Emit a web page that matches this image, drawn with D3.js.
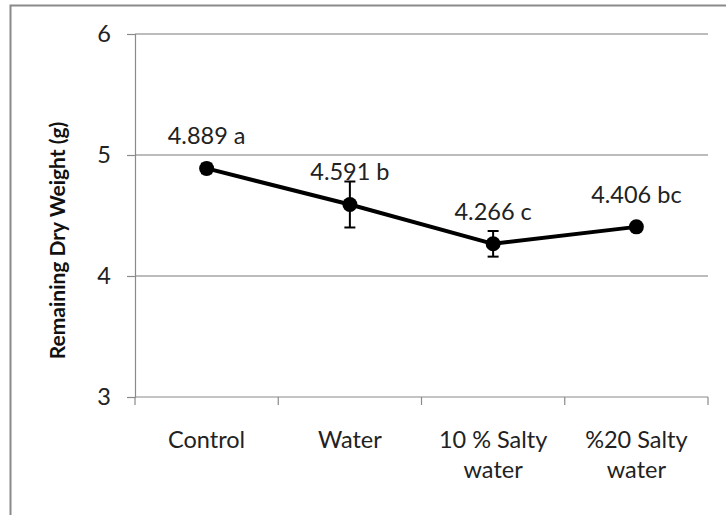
<!DOCTYPE html>
<html lang="en">
<head>
<meta charset="UTF-8">
<title>Remaining Dry Weight</title>
<script src="https://d3js.org/d3.v7.min.js"></script>
<style>
  html, body { margin: 0; padding: 0; background: #fff; }
  svg { display: block; font-family: Lato, "Open Sans", sans-serif; }
</style>
</head>
<body>
<svg id="chart" width="726" height="515"></svg>
<script>
// data
const categories = [["Control"], ["Water"], ["10 % Salty", "water"], ["%20 Salty", "water"]];
const means = [4.889, 4.591, 4.266, 4.406];
const errors = [0.04, 0.19, 0.106, 0.02];
const pointLabels = ["4.889 a", "4.591 b", "4.266 c", "4.406 bc"];
const yTicks = [3, 4, 5, 6];

const width = 726, height = 515;
const margin = { left: 135, right: 18, top: 34, bottom: 118 };
const fs = 23.5;

const svg = d3.select("#chart");

// outer frame (right and bottom edges fall outside the picture)
svg.append("rect")
  .attr("x", 10.5).attr("y", 5.5)
  .attr("width", 760).attr("height", 560)
  .attr("fill", "none")
  .attr("stroke", "#8a8a8a")
  .attr("stroke-width", 2);

const keys = categories.map((d, i) => i);

const x = d3.scaleBand()
  .domain(keys)
  .range([margin.left, width - margin.right])
  .padding(0);

const y = d3.scaleLinear()
  .domain([3, 6])
  .range([height - margin.bottom, margin.top]);

const x0 = margin.left, x1 = width - margin.right;

// gridlines
svg.append("g")
  .selectAll("line")
  .data(yTicks.filter(t => t > 3))
  .join("line")
  .attr("x1", x0).attr("x2", x1)
  .attr("y1", d => y(d)).attr("y2", d => y(d))
  .attr("stroke", "#a6a6a6")
  .attr("stroke-width", 1.5);

// y axis
const yAxis = svg.append("g")
  .attr("transform", `translate(${x0},0)`)
  .call(d3.axisLeft(y).tickValues(yTicks).tickSize(8).tickPadding(16).tickFormat(d3.format("d")));
yAxis.select(".domain").attr("stroke", "#8a8a8a").attr("stroke-width", 1.2);
yAxis.selectAll(".tick line").attr("stroke", "#8a8a8a").attr("stroke-width", 1.2);
yAxis.selectAll(".tick text")
  .attr("font-size", fs)
  .attr("fill", "#222")
  .attr("font-family", "Lato, sans-serif");

// x axis baseline and boundary ticks
const xBase = y(3);
svg.append("line")
  .attr("x1", x0).attr("x2", x1)
  .attr("y1", xBase).attr("y2", xBase)
  .attr("stroke", "#8a8a8a").attr("stroke-width", 1.2);
const bounds = keys.map(k => x(k)).concat([x(keys[keys.length - 1]) + x.bandwidth()]);
svg.append("g")
  .selectAll("line")
  .data(bounds)
  .join("line")
  .attr("x1", d => d).attr("x2", d => d)
  .attr("y1", xBase).attr("y2", xBase + 8)
  .attr("stroke", "#8a8a8a").attr("stroke-width", 1.2);

// category labels
const cx = i => x(i) + x.bandwidth() / 2;
svg.append("g")
  .selectAll("text")
  .data(categories)
  .join("text")
  .attr("text-anchor", "middle")
  .attr("font-size", fs)
  .attr("fill", "#222")
  .each(function (lines, i) {
    d3.select(this).selectAll("tspan")
      .data(lines)
      .join("tspan")
      .attr("x", cx(i))
      .attr("y", (d, j) => 448 + j * 30)
      .text(d => d);
  });

// y axis title
svg.append("text")
  .attr("transform", `translate(65,${(margin.top + xBase) / 2 + 25}) rotate(-90)`)
  .attr("text-anchor", "middle")
  .attr("font-size", 21)
  .attr("font-weight", "bold")
  .attr("fill", "#111")
  .text("Remaining Dry Weight (g)");

// line
const line = d3.line()
  .x((d, i) => cx(i))
  .y(d => y(d));
svg.append("path")
  .datum(means)
  .attr("d", line)
  .attr("fill", "none")
  .attr("stroke", "#000")
  .attr("stroke-width", 4)
  .attr("stroke-linejoin", "round");

// error bars
const eb = svg.append("g").attr("stroke", "#000").attr("stroke-width", 2);
means.forEach((m, i) => {
  const xi = cx(i);
  eb.append("line").attr("x1", xi).attr("x2", xi)
    .attr("y1", y(m - errors[i])).attr("y2", y(m + errors[i]));
  [m - errors[i], m + errors[i]].forEach(v => {
    eb.append("line").attr("x1", xi - 5.5).attr("x2", xi + 5.5)
      .attr("y1", y(v)).attr("y2", y(v));
  });
});

// markers
svg.append("g")
  .selectAll("circle")
  .data(means)
  .join("circle")
  .attr("cx", (d, i) => cx(i))
  .attr("cy", d => y(d))
  .attr("r", 7.5)
  .attr("fill", "#000");

// point labels
svg.append("g")
  .selectAll("text")
  .data(means)
  .join("text")
  .attr("x", (d, i) => cx(i))
  .attr("y", d => y(d) - 24)
  .attr("text-anchor", "middle")
  .attr("font-size", fs)
  .attr("fill", "#222")
  .text((d, i) => pointLabels[i]);
</script>
</body>
</html>
